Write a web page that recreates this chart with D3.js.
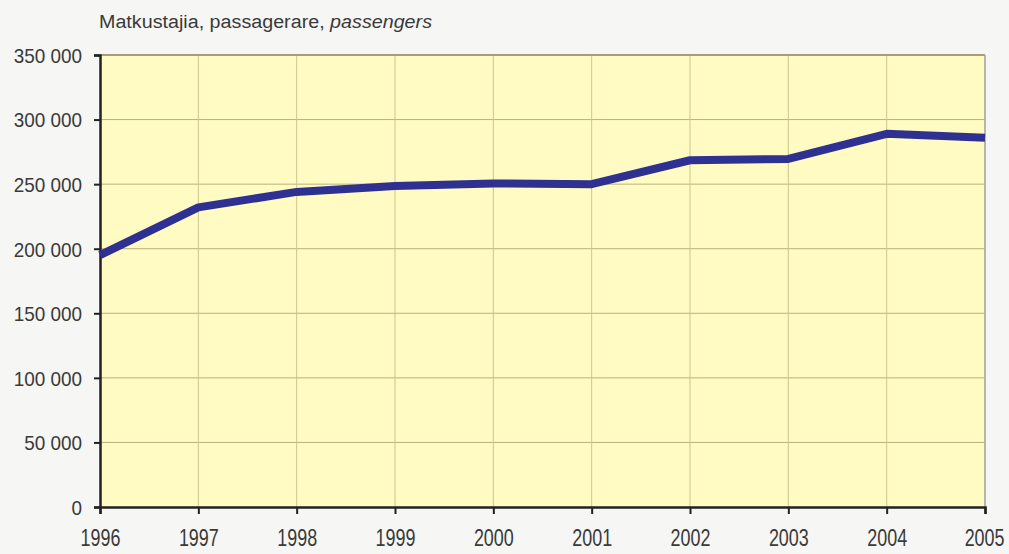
<!DOCTYPE html>
<html><head><meta charset="utf-8">
<script src="https://cdn.jsdelivr.net/npm/d3@7"></script>
<style>
html,body{margin:0;padding:0;background:#f6f6f4;}
svg{display:block;font-family:"Liberation Sans","Arial",sans-serif;}
</style></head>
<body>
<svg id="c" width="1009" height="554"></svg>
<script>
const years = [1996,1997,1998,1999,2000,2001,2002,2003,2004,2005];
const passengers = [195000,232000,244000,248500,250500,250000,268500,269500,289000,286000];
const yTicks = [0,50000,100000,150000,200000,250000,300000,350000];
const title = "Matkustajia, passagerare, ";
const titleItalic = "passengers";

const svg = d3.select("#c");
const W = 1009, H = 554;
const m = {l:100, r:W-985, t:55, b:H-507};
const x = d3.scaleLinear().domain([1996,2005]).range([m.l, W-m.r]);
const y = d3.scaleLinear().domain([0,350000]).range([H-m.b, m.t]);

function condense(sel, f){
  sel.each(function(){
    const w = this.getComputedTextLength();
    d3.select(this).attr("textLength", w*f).attr("lengthAdjust","spacingAndGlyphs");
  });
}

svg.append("rect").attr("x",m.l).attr("y",m.t)
  .attr("width",W-m.r-m.l).attr("height",H-m.b-m.t).attr("fill","#fffbc2");

svg.append("g").selectAll("line").data(yTicks.slice(1)).join("line")
  .attr("x1",m.l).attr("x2",W-m.r).attr("y1",d=>y(d)).attr("y2",d=>y(d))
  .attr("stroke","#b8b07c").attr("stroke-width",1);
svg.append("g").selectAll("line").data(years.slice(1)).join("line")
  .attr("x1",d=>x(d)).attr("x2",d=>x(d)).attr("y1",m.t).attr("y2",H-m.b)
  .attr("stroke","#cfc58a").attr("stroke-width",1);
svg.append("line").attr("x1",m.l).attr("x2",W-m.r).attr("y1",m.t).attr("y2",m.t)
  .attr("stroke","#9a8a6a").attr("stroke-width",1.5);
svg.append("line").attr("x1",W-m.r).attr("x2",W-m.r).attr("y1",m.t).attr("y2",H-m.b)
  .attr("stroke","#a8a8a8").attr("stroke-width",1.5);

const fmt = d => d3.format(",")(d).replace(/,/g," ");
const yAxis = d3.axisLeft(y).tickValues(yTicks).tickFormat(fmt).tickSize(6).tickPadding(12);
const gy = svg.append("g").attr("transform",`translate(${m.l},0)`).call(yAxis);
gy.attr("font-family",null);
gy.select(".domain").attr("stroke","#222").attr("stroke-width",2.5);
gy.selectAll(".tick line").attr("stroke","#222").attr("stroke-width",2);
gy.selectAll("text").attr("font-size",21).attr("fill","#3a3a3a").attr("dy","0.35em");
condense(gy.selectAll("text"), 0.9);

const xs = 0.78;
const xAxis = d3.axisBottom(x).tickValues(years).tickFormat(d3.format("d")).tickSize(7).tickPadding(16);
const gx = svg.append("g").attr("transform",`translate(0,${H-m.b})`).call(xAxis);
gx.attr("font-family",null);
gx.select(".domain").attr("stroke","#222").attr("stroke-width",2.5);
gx.selectAll(".tick line").attr("stroke","#222").attr("stroke-width",2);
gx.selectAll("text").attr("font-size",23).attr("fill","#3a3a3a")
  .attr("transform",`scale(${xs},1)`);
gx.selectAll(".tick").filter(d=>d===2005).select("text")
  .attr("text-anchor","end").attr("x",(W - x(2005) - 5)/xs);

const line = d3.line().x((d,i)=>x(years[i])).y(d=>y(d));
svg.append("path").datum(passengers).attr("d",line)
  .attr("fill","none").attr("stroke","#2e3192").attr("stroke-width",8)
  .attr("stroke-linejoin","round");

const t = svg.append("text").attr("x",99).attr("y",28).attr("font-size",18).attr("fill","#3a3a3a");
t.append("tspan").text(title);
t.append("tspan").attr("font-style","italic").text(titleItalic);
t.attr("textLength", 333).attr("lengthAdjust","spacingAndGlyphs");
</script>
</body></html>
